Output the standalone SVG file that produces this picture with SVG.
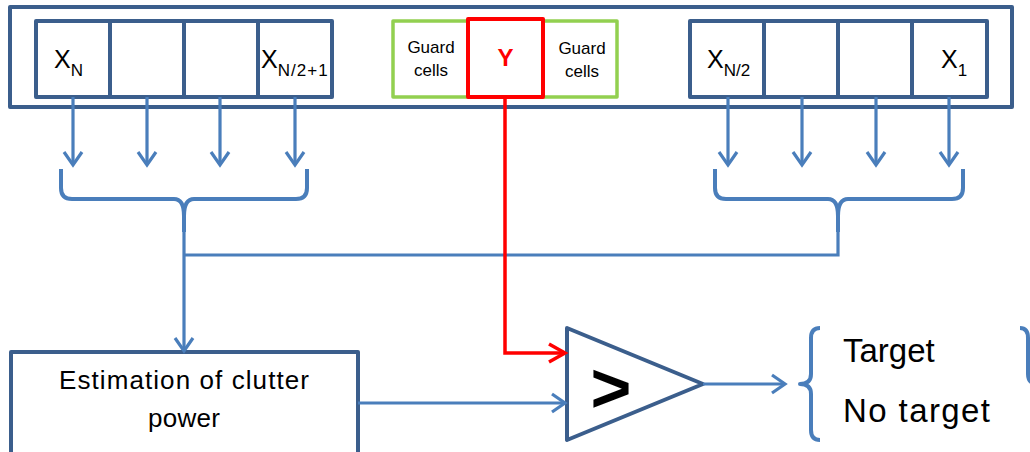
<svg xmlns="http://www.w3.org/2000/svg" width="1030" height="452" viewBox="0 0 1030 452">
<style>
.box{fill:#fff;stroke:#3B5E8C;stroke-width:4;stroke-linejoin:round}
.frame{fill:none;stroke:#3B5E8C;stroke-width:4;stroke-linejoin:round}
.guard{fill:#fff;stroke:#92D050;stroke-width:3.5;stroke-linejoin:round}
.ycell{fill:#fff;stroke:#FF0000;stroke-width:4;stroke-linejoin:round}
.conn{fill:none;stroke:#4A7EBB;stroke-width:3.2}
.brace{fill:none;stroke:#4A7EBB;stroke-width:4;stroke-linejoin:round}
.red{fill:none;stroke:#FF0000;stroke-width:3.5}
text{font-family:"Liberation Sans",Arial,sans-serif;fill:#000}
.x{font-size:25px}
.sub{font-size:17px}
.g{font-size:17px;text-anchor:middle}
.lbl{font-size:26px;text-anchor:middle}
.out{font-size:33px}
</style>
<defs>
<marker id="ab" markerUnits="userSpaceOnUse" markerWidth="30" markerHeight="30" refX="0" refY="0" orient="auto" overflow="visible">
<path d="M-13,-9 L0,0 L-13,9" fill="none" stroke="#4A7EBB" stroke-width="3.2" stroke-linejoin="miter"/>
</marker>
<marker id="ar" markerUnits="userSpaceOnUse" markerWidth="30" markerHeight="30" refX="0" refY="0" orient="auto" overflow="visible">
<path d="M-16,-9 L0,0 L-16,9" fill="none" stroke="#FF0000" stroke-width="3.5" stroke-linejoin="miter"/>
</marker>
</defs>
<rect width="1030" height="452" fill="#fff"/>
<g id="window-frame">
<rect class="frame" x="10" y="7" width="1002" height="100"/>
</g>
<g id="left-cells">
<rect class="box" x="36" y="21" width="74" height="76"/>
<rect class="box" x="110" y="21" width="74" height="76"/>
<rect class="box" x="184" y="21" width="74" height="76"/>
<rect class="box" x="258" y="21" width="74" height="76"/>
<text class="x" x="54" y="68">X<tspan class="sub" dy="8">N</tspan></text>
<text class="x" x="261" y="68">X<tspan class="sub" dy="8" textLength="50">N/2+1</tspan></text>
</g>
<g id="guard-left">
<rect class="guard" x="393" y="21" width="75" height="76"/>
<text class="g" x="431" y="53">Guard</text>
<text class="g" x="431" y="76">cells</text>
</g>
<g id="guard-right">
<rect class="guard" x="543" y="21" width="74" height="76"/>
<text class="g" x="582" y="54">Guard</text>
<text class="g" x="582" y="77">cells</text>
</g>
<g id="cell-under-test">
<rect class="ycell" x="468" y="19" width="75" height="78"/>
<text x="505.5" y="66" font-size="24" font-weight="bold" text-anchor="middle" style="fill:#FF0000">Y</text>
</g>
<g id="right-cells">
<rect class="box" x="690" y="21" width="74" height="76"/>
<rect class="box" x="764" y="21" width="74" height="76"/>
<rect class="box" x="838" y="21" width="74" height="76"/>
<rect class="box" x="912" y="21" width="75" height="76"/>
<text class="x" x="707" y="68">X<tspan class="sub" dy="8">N/2</tspan></text>
<text class="x" x="941" y="68">X<tspan class="sub" dy="8">1</tspan></text>
</g>
<g id="estimation">
<rect class="box" x="11" y="352" width="347" height="104"/>
<text class="lbl" x="184" y="389" textLength="250">Estimation of clutter</text>
<text class="lbl" x="184" y="427" textLength="72">power</text>
</g>
<g id="comparator">
<polygon class="box" points="567,328 703,384 567,440"/>
<text x="611" y="412" font-size="70" font-weight="bold" text-anchor="middle">&gt;</text>
</g>
<g id="decision">
<path class="brace" d="M820,328 Q811,328 811,338 L811,374 Q811,384 800,384 Q811,384 811,394 L811,430 Q811,440 820,440"/>
<path class="brace" d="M1020,328 Q1028,328 1028,338 L1028,374 Q1028,384 1038,384"/>
<text class="out" x="843" y="362">Target</text>
<text class="out" x="843" y="422" textLength="147">No target</text>
</g>
<g id="connectors">
<line class="conn" x1="73" y1="97" x2="73" y2="165" marker-end="url(#ab)"/>
<line class="conn" x1="147" y1="97" x2="147" y2="165" marker-end="url(#ab)"/>
<line class="conn" x1="220" y1="97" x2="220" y2="165" marker-end="url(#ab)"/>
<line class="conn" x1="295" y1="97" x2="295" y2="165" marker-end="url(#ab)"/>
<line class="conn" x1="728" y1="97" x2="728" y2="165" marker-end="url(#ab)"/>
<line class="conn" x1="802" y1="97" x2="802" y2="165" marker-end="url(#ab)"/>
<line class="conn" x1="876" y1="97" x2="876" y2="165" marker-end="url(#ab)"/>
<line class="conn" x1="949" y1="97" x2="949" y2="165" marker-end="url(#ab)"/>
<path class="brace" d="M61,169 L61,188 Q61,199 72,199 L174,199 Q184,199 184,216 Q184,199 194,199 L296,199 Q307,199 307,188 L307,169"/>
<path class="brace" d="M715,169 L715,188 Q715,199 726,199 L828,199 Q838,199 838,216 Q838,199 848,199 L952,199 Q963,199 963,188 L963,169"/>
<line class="brace" x1="184" y1="214" x2="184" y2="232"/>
<line class="brace" x1="838" y1="214" x2="838" y2="232"/>
<path class="conn" d="M838,230 L838,255 L184,255"/>
<line class="conn" x1="184" y1="230" x2="184" y2="351" marker-end="url(#ab)"/>
<path class="red" d="M505,97 L505,353 L565,353" marker-end="url(#ar)"/>
<line class="conn" x1="358" y1="403" x2="565" y2="403" marker-end="url(#ab)"/>
<line class="conn" x1="703" y1="384" x2="785" y2="384" marker-end="url(#ab)"/>
</g>
</svg>
